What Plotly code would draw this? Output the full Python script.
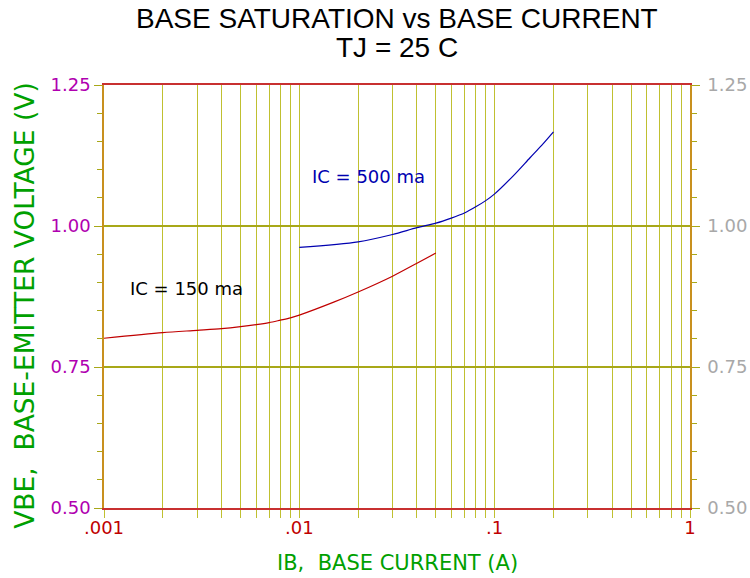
import plotly.graph_objects as go

# Data
ib_150 = [0.001, 0.002, 0.003, 0.004, 0.005, 0.006, 0.007, 0.008, 0.009, 0.01,
          0.015, 0.02, 0.03, 0.04, 0.05]
vbe_150 = [0.801, 0.811, 0.815, 0.818, 0.8215, 0.825, 0.8286, 0.833, 0.837, 0.842,
           0.865, 0.883, 0.911, 0.934, 0.952]

ib_500 = [0.01, 0.02, 0.03, 0.04, 0.05, 0.06, 0.07, 0.08, 0.09, 0.1,
          0.1245, 0.1517, 0.174, 0.2]
vbe_500 = [0.962, 0.972, 0.985, 0.997, 1.005, 1.014, 1.023, 1.034, 1.045, 1.057,
           1.089, 1.121, 1.143, 1.167]

x_tickvals = [m * 10 ** e for e in (-3, -2, -1) for m in range(1, 10)] + [1]
x_ticktext = [".001", "", "", "", "", "", "", "", "",
              ".01", "", "", "", "", "", "", "", "",
              ".1", "", "", "", "", "", "", "", "", "1"]
y_tickvals = [0.50, 0.75, 1.00, 1.25]
y_ticktext = ["0.50", "0.75", "1.00", "1.25"]

TFONT = "Liberation Sans, Arial, sans-serif"
FONT = "DejaVu Sans, Verdana, sans-serif"
GOLD = "#c8901e"
VGRID = "#c0c030"
HGRID = "#a8a818"

fig = go.Figure()
fig.add_trace(go.Scatter(x=ib_150, y=vbe_150, mode="lines",
                         line=dict(color="#c00000", width=1.2, shape="spline",
                                   smoothing=0.8),
                         showlegend=False, hoverinfo="skip"))
fig.add_trace(go.Scatter(x=ib_500, y=vbe_500, mode="lines",
                         line=dict(color="#0000b0", width=1.2, shape="spline",
                                   smoothing=0.8),
                         showlegend=False, hoverinfo="skip"))
# invisible trace to activate the right-hand axis
fig.add_trace(go.Scatter(x=ib_150, y=vbe_150, mode="lines", yaxis="y2",
                         line=dict(color="rgba(0,0,0,0)", width=0),
                         showlegend=False, hoverinfo="skip"))

# titles (plot area: 104..690 px wide, 85..508 px tall)
fig.add_annotation(x=0.5, y=1.158, xref="paper", yref="paper",
                   text="BASE SATURATION vs BASE CURRENT", showarrow=False,
                   xanchor="center", yanchor="middle",
                   font=dict(family=TFONT, size=28, color="#000000"))
fig.add_annotation(x=0.5, y=1.089, xref="paper", yref="paper",
                   text="TJ = 25 C", showarrow=False,
                   xanchor="center", yanchor="middle",
                   font=dict(family=TFONT, size=28, color="#000000"))
fig.add_annotation(x=-0.135, y=0.48, xref="paper", yref="paper",
                   text="VBE,  BASE-EMITTER VOLTAGE (V)", showarrow=False,
                   textangle=-90, xanchor="center", yanchor="middle",
                   font=dict(family=FONT, size=26.5, color="#00a000"))
fig.add_annotation(x=0.5, y=-0.130, xref="paper", yref="paper",
                   text="IB,  BASE CURRENT (A)", showarrow=False,
                   xanchor="center", yanchor="middle",
                   font=dict(family=FONT, size=21, color="#00a000"))

# curve labels
fig.add_annotation(x=-2.877, y=0.890, xref="x", yref="y", text="IC = 150 ma",
                   showarrow=False, xanchor="left", yanchor="middle",
                   font=dict(family=FONT, size=18, color="#000000"))
fig.add_annotation(x=-1.945, y=1.087, xref="x", yref="y", text="IC = 500 ma",
                   showarrow=False, xanchor="left", yanchor="middle",
                   font=dict(family=FONT, size=18, color="#0000b0"))

fig.update_layout(
    width=750, height=578,
    margin=dict(l=104, r=60, t=85, b=70, autoexpand=False),
    paper_bgcolor="white", plot_bgcolor="white",
    xaxis=dict(type="log", range=[-3, 0], automargin=False,
               tickvals=x_tickvals, ticktext=x_ticktext,
               showgrid=True, gridcolor=VGRID, gridwidth=1,
               ticks="outside", ticklen=8, tickcolor=VGRID,
               showline=True, linecolor="#c83030", linewidth=1.5,
               mirror=True, zeroline=False, ticklabelstandoff=-5,
               tickfont=dict(family=FONT, size=18, color="#c00000")),
    yaxis=dict(range=[0.5, 1.25], tickvals=y_tickvals, ticktext=y_ticktext,
               automargin=False,
               showgrid=True, gridcolor=HGRID, gridwidth=1.5,
               ticks="outside", ticklen=8, tickcolor=HGRID,
               minor=dict(dtick=0.05, ticks="outside", ticklen=5,
                          tickcolor=HGRID, showgrid=False),
               showline=True, linecolor=GOLD, linewidth=1.5, zeroline=False,
               tickfont=dict(family=FONT, size=18, color="#b000b0")),
    yaxis2=dict(range=[0.5, 1.25], tickvals=y_tickvals, ticktext=y_ticktext,
                overlaying="y", side="right", anchor="x", automargin=False,
                showgrid=False, ticks="outside", ticklen=8, tickcolor=HGRID,
                minor=dict(dtick=0.05, ticks="outside", ticklen=5,
                           tickcolor=HGRID, showgrid=False),
                showline=True, linecolor=GOLD, linewidth=1.5, zeroline=False,
                ticklabelstandoff=4,
                tickfont=dict(family=FONT, size=18, color="#a8a8a8")),
)

# remove the page's default 8px body margin so the 750x578 figure fills the window
fig.write_html("out.html", config={"displayModeBar": False},
               post_script="document.body.style.margin='0px';")
